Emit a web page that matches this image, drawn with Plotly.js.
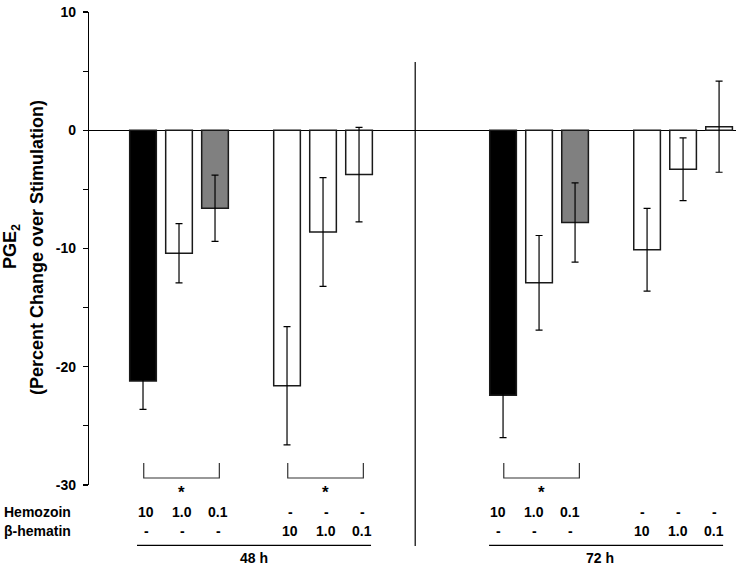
<!DOCTYPE html>
<html><head><meta charset="utf-8">
<script src="https://cdn.plot.ly/plotly-3.0.1.min.js"></script>
<style>html,body{margin:0;padding:0;background:#fff}</style>
</head><body><div id="chart" style="width:736px;height:568px"></div>
<script>
// ---- data ----
const timeLabels = ['48 h', '72 h'];
const agentLabels = ['Hemozoin', 'β-hematin'];
const doseLabels = ['10', '1.0', '0.1'];
// order: time -> agent -> dose
const pge2Change = [-21.2, -10.4, -6.6, -21.6, -8.6, -3.75, -22.4, -12.9, -7.8, -10.1, -3.3, 0.3];
const pge2Error  = [2.4, 2.5, 2.8, 5.0, 4.6, 4.0, 3.6, 4.0, 3.35, 3.5, 2.65, 3.85];
const significantGroups = [[0, 0], [0, 1], [1, 0]]; // [time, agent]
const yTickVals = [-30, -20, -10, 0, 10];

// ---- layout helpers ----
const FONT = 'Liberation Sans, Arial, Helvetica, sans-serif';
const T = 12, B = 485, H = B - T;
const py = p => (B - p) / H;
const unitPx = 36;
const hemoFill = ['#000000', '#ffffff', '#808080'];
const timeShift = [3, -5];

const xs = [], fills = [], row1 = [], row2 = [];
for (let t = 0; t < timeLabels.length; t++) {
  for (let a = 0; a < agentLabels.length; a++) {
    for (let d = 0; d < doseLabels.length; d++) {
      const x = t * 10 + a * 4 + d;
      xs.push(x);
      fills.push(a === 0 ? hemoFill[d] : '#ffffff');
      row1.push({x, t, text: a === 0 ? doseLabels[d] : '-'});
      row2.push({x, t, text: a === 1 ? doseLabels[d] : '-'});
    }
  }
}

const trace = {
  type: 'bar', x: xs, y: pge2Change, width: 0.74,
  marker: {color: fills, line: {color: '#1a1a1a', width: 1.5}},
  error_y: {type: 'data', array: pge2Error, visible: true, color: '#000', thickness: 1.2, width: 3.5},
  hoverinfo: 'skip'
};

const ann = [];
const shapes = [];
const lblFont = {family: FONT, size: 14, color: '#000', weight: 'bold'};
row1.forEach(r => ann.push({xref: 'x', yref: 'paper', x: r.x, y: py(511.7), xshift: timeShift[r.t], text: r.text, showarrow: false, font: lblFont, xanchor: 'center', yanchor: 'middle'}));
row2.forEach(r => ann.push({xref: 'x', yref: 'paper', x: r.x, y: py(530.7), xshift: timeShift[r.t], text: r.text, showarrow: false, font: lblFont, xanchor: 'center', yanchor: 'middle'}));
agentLabels.forEach((lab, i) => ann.push({xref: 'paper', yref: 'paper', x: (2 - 89) / 647, y: py(511.7 + 19 * i), text: lab, showarrow: false, font: lblFont, xanchor: 'left', yanchor: 'middle'}));

timeLabels.forEach((lab, t) => {
  const c = t * 10 + 3 + timeShift[t] / unitPx;
  shapes.push({type: 'line', xref: 'x', yref: 'paper', x0: c - 3.25, x1: c + 3.25, y0: py(545.3), y1: py(545.3), line: {color: '#000', width: 1.2}});
  ann.push({xref: 'x', yref: 'paper', x: c, y: py(558), xshift: t === 0 ? 0 : -6, text: lab, showarrow: false, font: lblFont, xanchor: 'center', yanchor: 'middle'});
});

significantGroups.forEach(([t, a]) => {
  const s = t * 10 + a * 4;
  const x0 = s + 0.02, x1 = s + 2.12, yt = py(463), yb = py(478);
  shapes.push({type: 'path', xref: 'x', yref: 'paper', path: `M ${x0},${yt} L ${x0},${yb} L ${x1},${yb} L ${x1},${yt}`, line: {color: '#333', width: 1.2}});
  ann.push({xref: 'x', yref: 'paper', x: s + 1, y: py(492), xshift: 2, text: '*', showarrow: false, font: {family: FONT, size: 17, color: '#000', weight: 'bold'}, xanchor: 'center', yanchor: 'middle'});
});

// divider between time points
shapes.push({type: 'line', xref: 'x', yref: 'paper', x0: 7.56, x1: 7.56, y0: py(62), y1: py(546), line: {color: '#000', width: 1.2}});

// y-axis title (two lines)
const titleFont = {family: FONT, size: 18, color: '#000', weight: 'bold'};
ann.push({xref: 'paper', yref: 'paper', x: 0, xshift: 12 - 89, y: py(247), text: 'PGE<sub>2</sub>', textangle: -90, showarrow: false, font: titleFont, xanchor: 'center', yanchor: 'middle'});
ann.push({xref: 'paper', yref: 'paper', x: 0, xshift: 37 - 89, y: py(248), text: '(Percent Change over Stimulation)', textangle: -90, showarrow: false, font: titleFont, xanchor: 'center', yanchor: 'middle'});

const layout = {
  width: 736, height: 568,
  margin: {l: 89, r: 0, t: T, b: 568 - B, pad: 0},
  paper_bgcolor: '#fff', plot_bgcolor: '#fff',
  showlegend: false,
  font: {family: FONT},
  xaxis: {range: [-1.5, 16.47], showgrid: false, zeroline: false, showline: false, showticklabels: false, ticks: '', fixedrange: true},
  yaxis: {
    range: [-30, 10], tickvals: yTickVals, ticktext: yTickVals.map(String),
    showgrid: false, zeroline: true, zerolinecolor: '#000', zerolinewidth: 1.2,
    showline: true, linecolor: '#000', linewidth: 1.2,
    ticks: 'outside', ticklen: 5, tickwidth: 1.2, tickcolor: '#000',
    minor: {tickvals: [-25, -15, -5, 5], ticks: 'outside', ticklen: 5, tickwidth: 1.2, tickcolor: '#000'},
    tickfont: {family: FONT, size: 14, color: '#000', weight: 'bold'},
    ticklabelstandoff: 4, fixedrange: true
  },
  annotations: ann, shapes: shapes
};

Plotly.newPlot('chart', [trace], layout, {displayModeBar: false, staticPlot: true});
</script>
</body></html>
